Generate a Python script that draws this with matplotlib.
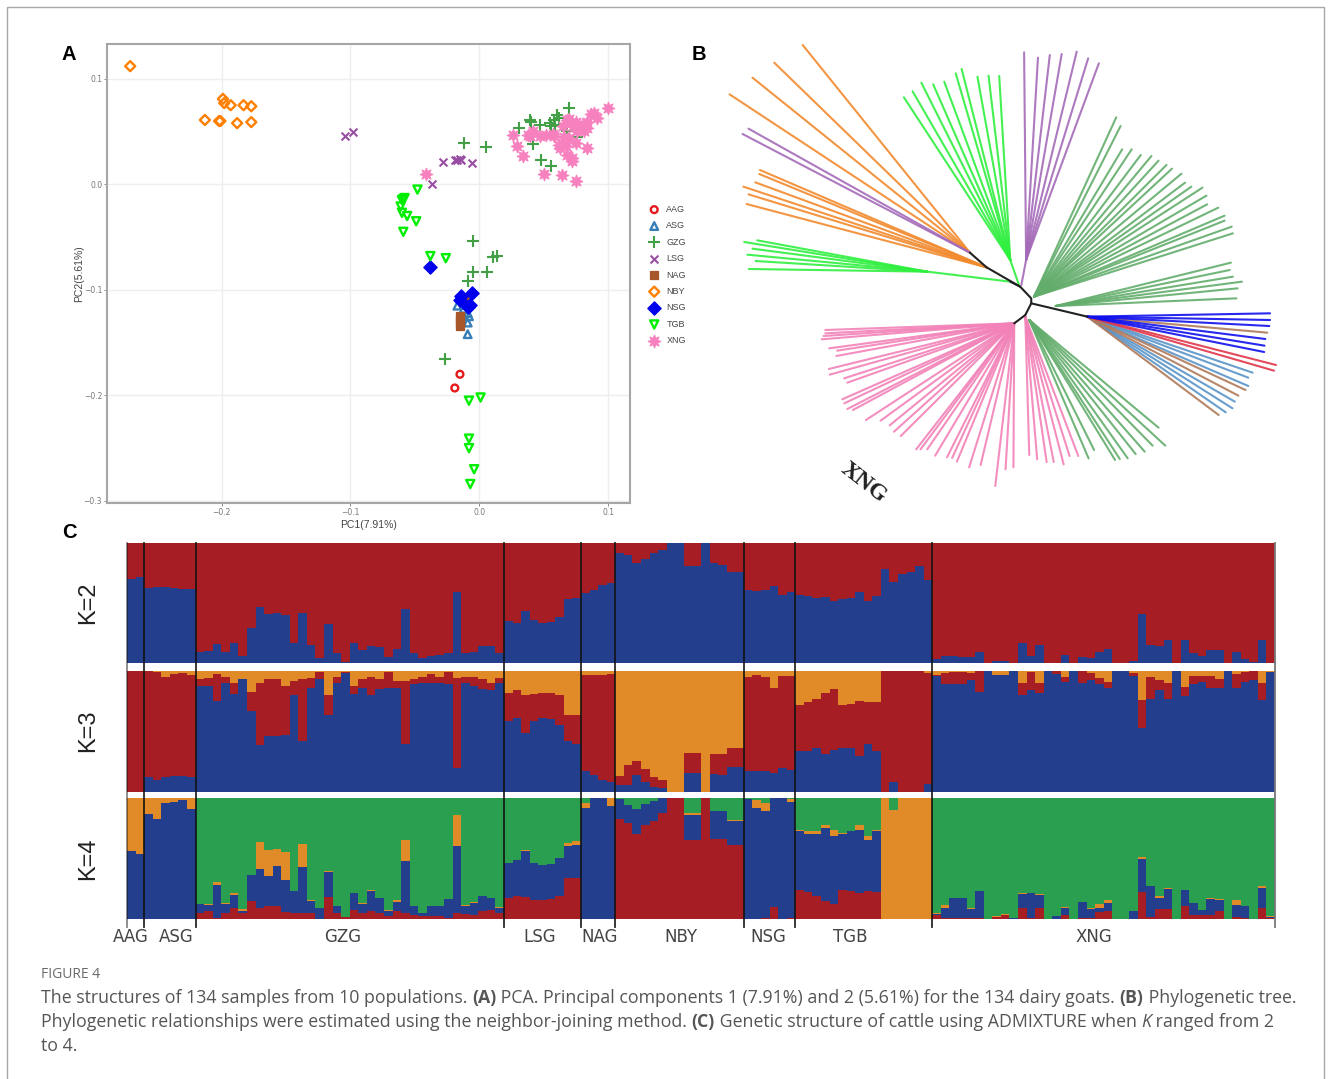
import matplotlib
matplotlib.use('Agg')
import matplotlib.pyplot as plt
from matplotlib.patches import Rectangle
from matplotlib.transforms import IdentityTransform

W, H = 1331, 1079

# panel A: PCA scores
aag_x = [-0.015, -0.019]
aag_y = [-0.180, -0.193]
asg_x = [-0.017, -0.009, -0.009, -0.009, -0.012, -0.008]
asg_y = [-0.115, -0.122, -0.131, -0.142, -0.118, -0.125]
gzg_x = [-0.012, 0.005, 0.031, 0.039, 0.040, 0.047, 0.042, 0.048, 0.056, 0.070, 0.060, 0.058, 0.056,
         0.055, 0.062, 0.068, 0.076, 0.067, 0.059, -0.005, 0.014, 0.011, -0.005, 0.006, -0.009, -0.027]
gzg_y = [0.039, 0.035, 0.053, 0.061, 0.059, 0.056, 0.038, 0.023, 0.017, 0.072, 0.066, 0.061, 0.055,
         0.058, 0.063, 0.051, 0.045, 0.055, 0.056, -0.054, -0.068, -0.069, -0.083, -0.083, -0.092, -0.166]
lsg_x = [-0.104, -0.098, -0.028, -0.019, -0.017, -0.014, -0.006, -0.037, -0.015]
lsg_y = [0.046, 0.050, 0.021, 0.023, 0.023, 0.023, 0.020, 0.000, 0.024]
nag_x = [-0.015, -0.015, -0.015, -0.015, -0.011]
nag_y = [-0.125, -0.128, -0.131, -0.134, -0.111]
nby_x = [-0.271, -0.199, -0.198, -0.193, -0.183, -0.177, -0.213, -0.202, -0.201, -0.188, -0.177]
nby_y = [0.112, 0.081, 0.077, 0.075, 0.075, 0.074, 0.061, 0.060, 0.060, 0.058, 0.059]
nsg_x = [-0.038, -0.006, -0.014, -0.015, -0.007, -0.009]
nsg_y = [-0.078, -0.103, -0.106, -0.110, -0.114, -0.116]
tgb_x = [-0.048, -0.059, -0.060, -0.058, -0.061, -0.060, -0.056, -0.049, -0.059, -0.038, -0.026,
         0.001, -0.008, -0.008, -0.008, -0.004, -0.007]
tgb_y = [-0.005, -0.014, -0.015, -0.013, -0.021, -0.027, -0.030, -0.035, -0.045, -0.068, -0.070,
         -0.202, -0.205, -0.241, -0.250, -0.270, -0.284]
xng_x = [-0.041, 0.026, 0.029, 0.034, 0.050, 0.064, 0.075, 0.100, 0.089, 0.091, 0.084, 0.038, 0.042,
         0.047, 0.052, 0.058, 0.062, 0.067, 0.070, 0.075, 0.068, 0.072, 0.072, 0.065, 0.070, 0.075,
         0.080, 0.084, 0.084, 0.076, 0.081, 0.063, 0.039, 0.087, 0.068, 0.073, 0.066, 0.057]
xng_y = [0.010, 0.047, 0.036, 0.027, 0.010, 0.009, 0.003, 0.072, 0.068, 0.063, 0.034, 0.047, 0.051,
         0.046, 0.047, 0.046, 0.037, 0.036, 0.044, 0.039, 0.028, 0.025, 0.022, 0.055, 0.062, 0.059,
         0.056, 0.053, 0.059, 0.051, 0.051, 0.034, 0.046, 0.067, 0.061, 0.055, 0.045, 0.048]

# panel B: tree, read in a 1568 x 1440 grid over the panel
backbone = [[(708, 668), (750, 712), (835, 770), (863, 805), (863, 820), (848, 855)],
            [(863, 820), (1005, 860)], [(848, 855), (820, 880)], [(835, 770), (810, 755)]]
orange_tips_a = [(285, 45), (213, 98), (158, 143), (100, 193)]
purple_tips_a = [(148, 296), (133, 312)]
orange_tips_b = [(177, 420), (175, 432), (165, 457), (135, 470), (148, 493), (143, 522)]
lime_tips_a = [(137, 636), (170, 631), (158, 656), (145, 674), (166, 693), (149, 717)]
lime_tips_b = [(541, 202), (563, 184), (585, 158), (615, 163), (643, 155), (672, 130), (687, 117),
               (727, 140), (755, 137), (782, 138)]
purple_tips_b = [(845, 67), (880, 83), (910, 75), (940, 72), (978, 65), (1007, 85), (1034, 100)]
green_tips_a = [(1078, 262), (1089, 288), (1093, 358), (1117, 358), (1140, 375), (1167, 378), (1185, 392),
                (1205, 405), (1219, 416), (1243, 431), (1252, 458), (1268, 470), (1296, 473), (1306, 497),
                (1308, 523), (1336, 533), (1352, 557), (1352, 572), (1370, 590), (1373, 610)]
green_tips_b = [(1368, 698), (1365, 720), (1373, 740), (1396, 755), (1385, 775), (1382, 805)]
blue_tips = [(1467, 850), (1467, 870), (1465, 888), (1455, 927), (1453, 947), (1452, 966)]
brown_tips = [(1460, 908), (1405, 1080), (1387, 1097), (1337, 1155)]
red_tips = [(1482, 1005), (1477, 1022)]
steel_tips = [(1423, 1028), (1412, 1043), (1412, 1068), (1378, 1115), (1372, 1135), (1355, 1147)]
pink_tips_a = [(342, 900), (342, 910), (338, 918), (333, 928), (352, 955), (372, 962), (370, 978), (351, 1017),
               (353, 1034), (390, 1045), (398, 1058), (385, 1108), (390, 1120), (398, 1137), (412, 1140),
               (445, 1170), (482, 1172), (505, 1186), (516, 1205), (533, 1218), (572, 1258), (583, 1258),
               (600, 1258), (620, 1277), (650, 1282), (663, 1284), (675, 1295), (706, 1312), (735, 1305),
               (772, 1368), (798, 1318), (818, 1312)]
pink_tips_b = [(858, 1275), (878, 1288), (902, 1296), (920, 1296), (945, 1303), (960, 1278), (982, 1278)]
green_tips_c = [(1008, 1285), (1022, 1260), (1075, 1290), (1087, 1287), (1107, 1285), (1127, 1272),
                (1150, 1265), (1170, 1247), (1202, 1247), (1185, 1193)]

# panel C: admixture proportions (%), one row per population
pops = ['AAG', 'ASG', 'GZG', 'LSG', 'NAG', 'NBY', 'NSG', 'TGB', 'XNG']
counts = [2, 6, 36, 9, 4, 15, 6, 16, 40]
# labels are not centred on their groups in the figure, position in sample units
pop_label_pos = [0.4, 5.8, 25.2, 48.2, 55.2, 64.6, 74.9, 84.4, 112.8]

k2_blue = [
    70, 72,
    62.5, 63.5, 63, 62.5, 62, 62,
    9, 10, 16, 9, 17, 6, 29, 47, 41, 42, 40, 17, 42, 15, 4, 32.5, 8, 1, 17, 11, 14, 13, 5, 12, 45, 8, 4, 6, 7, 8, 59, 8, 9, 14, 14, 8,
    35, 33, 43.5, 36, 33.5, 34, 38, 53, 54,
    58, 61, 65, 67,
    92, 90, 83, 87, 92, 94, 100, 100, 81, 81, 100, 83, 82, 76, 76,
    61, 60, 61, 64, 57, 59,
    57, 56, 54, 55, 51.5, 53.7, 54.5, 59, 51.5, 56, 78.5, 67.5, 74, 76, 81, 69,
    3, 6, 5.5, 5, 5, 9, 0, 2, 2, 0, 16.5, 5.5, 15.4, 0, 0, 6.6, 0, 5, 4.4, 9, 12, 0, 0, 2, 41, 15, 14, 19, 0, 19, 8, 6, 10.5, 11, 0, 9, 3, 1, 19, 0]

k3_blue = [
    0, 0,
    12, 10, 12, 13, 13, 12,
    88, 88, 75, 90, 81, 93, 67, 39, 46, 46, 47, 80, 42, 86, 93, 64, 90, 98, 81, 86, 80, 85, 86, 86, 40, 89, 90, 90, 90, 89, 20, 90, 88, 85, 84, 90,
    59, 61, 49, 59, 61, 60, 55, 42, 40,
    17, 14, 10, 8,
    5.5, 6, 14, 8, 4, 3, 0, 0, 16, 16, 0, 15, 14, 21, 21,
    17, 17, 17, 16, 20, 18,
    34, 34, 36, 31, 35, 36, 36, 30, 40, 34, 0, 8, 0, 0, 0, 7,
    96, 89, 89, 89, 92.5, 83, 100, 97, 97, 100, 80, 84, 81.5, 100, 97.5, 91, 100, 90, 92.5, 89, 86, 100, 100, 96, 52.5, 77, 84, 77, 100, 79, 89, 91, 86, 86, 100, 86, 91, 92.5, 76, 99]
k3_orange = [
    0, 0,
    0, 0.5, 4.7, 2.8, 2, 3.3,
    7, 6, 2.5, 5, 10, 7, 17, 10, 7, 7, 12, 8, 7, 6, 0.5, 20, 5, 1, 12, 7, 5, 7, 1, 8, 8, 7, 5, 2.5, 5, 1, 5.5, 5, 5, 7, 10, 6,
    18.5, 16, 20, 19, 18, 18, 20, 36, 36.5,
    3, 3, 3, 2.5,
    87, 78, 74, 81, 88, 90, 100, 100, 68, 68, 100, 69, 69, 63.5, 63.5,
    5, 3, 5, 14, 4, 4,
    28, 26, 23, 18.5, 15, 28, 27, 25, 26, 26, 0, 0, 0, 0, 0, 2,
    3, 1.5, 0.5, 0.5, 1.5, 0, 0, 3, 3, 0, 10, 0.5, 10, 0, 0, 5, 0, 0, 1.5, 6, 9, 0, 0, 1.5, 24, 5, 7.5, 10, 0, 13, 4, 4, 4, 6.5, 0, 2.5, 0.5, 0, 10, 0.5]

k4_red = [
    0, 0,
    0, 0, 0, 0, 0, 0,
    5, 6.3, 1, 5, 9, 5, 14.6, 9, 10.5, 10.5, 6, 5, 5, 5, 0, 18.5, 5, 1.6, 7.7, 5, 6.3, 5, 2.2, 6.3, 5, 3.6, 2.2, 2.2, 2.2, 1, 5, 4.4, 3.6, 7, 7.7, 5,
    17, 19, 18, 16, 15.4, 16.5, 18.7, 34, 34,
    0, 0, 0, 0,
    83, 79, 70.5, 78, 81, 87.6, 100, 100, 65.5, 65.5, 100, 66, 66, 61.4, 61.4,
    0, 0, 1, 10, 0, 1,
    24, 22, 18.7, 14.6, 12.4, 24, 23.4, 21.5, 23, 22, 0, 0, 0, 0, 0, 0,
    3, 1, 1, 1, 1, 1, 0, 2, 3, 0, 9, 1, 9, 0, 0, 3.6, 0, 1, 1, 5.5, 7, 0, 0, 0, 22, 2, 8, 8, 0, 11, 3.6, 3.6, 3.6, 6.3, 0, 2, 1, 0, 9, 1]
k4_blue = [
    56, 54,
    87, 83, 96, 97, 98, 91,
    7.4, 5.5, 27.5, 7.7, 11, 2, 22, 32, 25, 33, 26, 18, 38, 9.6, 9, 20.7, 5.5, 0, 13.8, 7.7, 16.5, 12.4, 4, 7.4, 42.7, 6.9, 2.8, 8.3, 8.3, 15.7, 55, 6.6, 9.6, 11.6, 9.6, 4,
    29, 30, 38, 30, 29.5, 29, 32, 26, 27.5,
    92, 100, 100, 93,
    16, 15, 20, 17, 16.5, 12.4, 0, 0, 20.7, 20.7, 0, 23.4, 23.4, 19.3, 19.3,
    99, 92, 88, 90, 100, 96,
    48.8, 48.5, 51.8, 60.6, 56.5, 46.3, 49, 52.3, 42.7, 50.4, 0, 0, 0, 0, 0, 0,
    1.4, 8, 16, 16, 7, 22, 0, 0, 0, 0.5, 11.6, 20.7, 11, 0, 2.2, 5.5, 0, 13, 7, 3.6, 6.6, 0, 0, 6.3, 28, 25, 9.6, 16.5, 0, 13, 10, 4, 13, 9, 0, 9.6, 9.6, 0, 16.5, 0.5]
k4_orange = [
    44, 46,
    13, 17, 4, 3, 2, 9,
    0.3, 0.8, 2, 0.5, 1.4, 1.4, 0, 23, 21.5, 14, 23.5, 0, 19, 0.8, 0, 0.8, 0.5, 0, 0, 0.5, 1.4, 0, 1.4, 1.6, 18, 0, 0, 0, 0, 0, 26, 0.8, 0.5, 0.5, 0, 0.8,
    0, 0, 1.4, 0, 0, 0, 0, 2.8, 2.8,
    4, 0, 0, 7,
    0, 0, 0, 0, 0, 0, 0, 0, 1, 1, 0, 0, 0, 1, 1,
    0, 6, 7, 0, 0, 2.5,
    1, 2, 2.5, 2.8, 5, 0.5, 0, 4, 2.8, 1.4, 100, 90, 100, 100, 100, 100,
    0.5, 2.8, 0, 0, 1.4, 0, 0, 0.5, 0.8, 0, 0.8, 0, 0.8, 0, 0.5, 0.5, 0, 0, 1.4, 3.6, 2.2, 0, 0, 0, 1.4, 0, 1.4, 1.4, 0, 0, 0, 0, 0.5, 1, 0, 4, 0, 0, 1.4, 0.8]

C_RED, C_BLUE, C_ORANGE, C_GREEN = '#A61E24', '#243E8E', '#E08B27', '#2A9F50'


def px_axes(fig, x0, y0, x1, y1):
    return fig.add_axes([x0 / W, 1 - y1 / H, (x1 - x0) / W, (y1 - y0) / H])


def stacked(ax, stacks):
    x = range(sum(counts))
    bottom = [0] * sum(counts)
    for vals, col in stacks:
        ax.bar(x, vals, width=1.0, bottom=bottom, color=col, linewidth=0, align='edge')
        bottom = [b + v for b, v in zip(bottom, vals)]
    ax.set_xlim(0, sum(counts))
    ax.set_ylim(0, 100)
    ax.axis('off')


def rest(*rows):
    return [max(0, 100 - sum(r)) for r in zip(*rows)]


def fan(ax, node, tips, col, lw=1.5):
    for tip in tips:
        ax.plot([node[0], tip[0]], [node[1], tip[1]], color=col, lw=lw, solid_capstyle='round', alpha=0.9)


fig = plt.figure(figsize=(W / 100, H / 100), dpi=100, facecolor='white')

# outer card
fig.add_artist(Rectangle((7 / W, -0.01), 1317 / W, 1 + 0.01 - 7 / H, transform=fig.transFigure,
                         fill=False, edgecolor='#a8a8a8', lw=1.0))

# ---- A
ax = px_axes(fig, 107, 44, 630, 503)
series = [('AAG', aag_x, aag_y, 'o', '#E41A1C', True, 24),
          ('ASG', asg_x, asg_y, '^', '#377EB8', True, 30),
          ('GZG', gzg_x, gzg_y, '+', '#43A047', False, 70),
          ('LSG', lsg_x, lsg_y, 'x', '#984EA3', False, 32),
          ('NAG', nag_x, nag_y, 's', '#A65628', False, 36),
          ('NBY', nby_x, nby_y, 'D', '#FF7F00', True, 26),
          ('NSG', nsg_x, nsg_y, 'D', '#0000EE', False, 46),
          ('TGB', tgb_x, tgb_y, 'v', '#00EE00', True, 34),
          ('XNG', xng_x, xng_y, (8, 1, 0), '#F781BF', False, 80)]
for name, xs, ys, mk, col, hollow, size in series:
    if hollow:
        ax.scatter(xs, ys, marker=mk, s=size, facecolors='none', edgecolors=col, linewidths=1.7, label=name, zorder=3)
    elif mk in ('+', 'x'):
        ax.scatter(xs, ys, marker=mk, s=size, color=col, linewidths=1.5, label=name, zorder=3)
    else:
        ax.scatter(xs, ys, marker=mk, s=size, color=col, linewidths=0.9, label=name, zorder=3)
ax.set_xlim(-0.289, 0.117)
ax.set_ylim(-0.302, 0.133)
ax.set_xticks([-0.2, -0.1, 0.0, 0.1], ['\u22120.2', '\u22120.1', '0.0', '0.1'])
ax.set_yticks([-0.3, -0.2, -0.1, 0.0, 0.1], ['\u22120.3', '\u22120.2', '\u22120.1', '0.0', '0.1'])
ax.tick_params(labelsize=5.5, labelcolor='#777777', color='#777777', length=2, width=0.6, pad=1.5)
ax.grid(True, color='#eeeeee', lw=1.0)
ax.set_axisbelow(True)
for s in ax.spines.values():
    s.set_color('#a6a6a6')
    s.set_linewidth(1.5)
ax.set_xlabel('PC1(7.91%)', fontsize=7.5, color='#444444', labelpad=2, family='Liberation Sans')
ax.set_ylabel('PC2(5.61%)', fontsize=7.5, color='#444444', labelpad=0, family='Liberation Sans')
leg = ax.legend(loc='upper left', bbox_to_anchor=(647 / W, 1 - 205 / H), bbox_transform=fig.transFigure,
                frameon=False, fontsize=6.5, labelspacing=0.82, handletextpad=0.55, borderpad=0, borderaxespad=0,
                labelcolor='#444444', handlelength=1.6, prop={'family': 'Liberation Sans', 'size': 6.5})

# ---- B
tree = px_axes(fig, 690, 30, 1310, 510)
tree.set_xlim(0, 1568)
tree.set_ylim(1440, 0)
tree.axis('off')
C_TREE_ORANGE, C_TREE_PURPLE = '#F28A2E', '#A46AB8'
C_TREE_LIME, C_TREE_GREEN = '#2FEF3F', '#63AD6C'
C_TREE_PINK = '#F282B8'
fan(tree, (708, 668), orange_tips_a, C_TREE_ORANGE)
fan(tree, (708, 668), purple_tips_a, C_TREE_PURPLE)
fan(tree, (750, 712), orange_tips_b, C_TREE_ORANGE)
fan(tree, (810, 755), [(600, 725)], C_TREE_LIME)
fan(tree, (600, 725), lime_tips_a, C_TREE_LIME)
fan(tree, (832, 765), [(810, 690)], C_TREE_LIME)
fan(tree, (810, 690), lime_tips_b, C_TREE_LIME)
fan(tree, (838, 765), [(850, 690)], C_TREE_PURPLE)
fan(tree, (850, 690), purple_tips_b, C_TREE_PURPLE)
fan(tree, (870, 800), green_tips_a, C_TREE_GREEN)
fan(tree, (925, 828), green_tips_b, C_TREE_GREEN)
fan(tree, (1005, 860), steel_tips, '#5A94C8')
fan(tree, (1005, 860), brown_tips, '#B07A5A')
fan(tree, (1005, 860), red_tips, '#E0364A')
fan(tree, (1005, 860), blue_tips, '#1010EE')
fan(tree, (820, 880), pink_tips_a, C_TREE_PINK)
fan(tree, (848, 860), pink_tips_b, C_TREE_PINK)
fan(tree, (858, 870), green_tips_c, C_TREE_GREEN)
for branch in backbone:
    tree.plot([p[0] for p in branch], [p[1] for p in branch], color='#222222', lw=1.5, solid_capstyle='round')
fig.text(864 / W, 1 - 483 / H, 'XNG', rotation=-38, ha='center', va='center', fontsize=17,
         family='Liberation Serif', fontweight='bold', color='#222222')

# ---- C
stacked(px_axes(fig, 127, 543, 1275, 663), [(k2_blue, C_BLUE), (rest(k2_blue), C_RED)])
stacked(px_axes(fig, 127, 671, 1275, 792),
        [(k3_blue, C_BLUE), (rest(k3_blue, k3_orange), C_RED), (k3_orange, C_ORANGE)])
stacked(px_axes(fig, 127, 798, 1275, 919),
        [(k4_red, C_RED), (k4_blue, C_BLUE), (k4_orange, C_ORANGE), (rest(k4_red, k4_blue, k4_orange), C_GREEN)])

over = px_axes(fig, 127, 543, 1275, 927)
over.patch.set_alpha(0)
over.set_xlim(0, sum(counts))
over.set_ylim(1, 0)
over.axis('off')
edge = 0
for name, n, pos in zip(pops, counts, pop_label_pos):
    over.plot([edge, edge], [0, 1], color='#111111', lw=1.3, clip_on=False, alpha=0.9 if edge else 0.5)
    over.text(pos, 1.027, name, ha='center', va='center', fontsize=12, family='DejaVu Sans',
              color='#444444', clip_on=False)
    edge += n
over.plot([edge, edge], [0, 1], color='#777777', lw=1.3, clip_on=False)

for label, y in zip(['K=2', 'K=3', 'K=4'], [603, 731, 859]):
    fig.text(88 / W, 1 - y / H, label, rotation=90, ha='center', va='center', fontsize=17,
             family='Liberation Sans', color='#222222')

for label, x, y in [('A', 69, 54), ('B', 699, 54), ('C', 69, 532)]:
    fig.text(x / W, 1 - y / H, label, ha='center', va='center', fontsize=14.5, fontweight='bold',
             family='Liberation Sans', color='black')

# ---- caption
fig.text(41 / W, 1 - 974 / H, 'FIGURE 4', fontsize=10, family='Open Sans', color='#6a6a6a', va='center')
caption = [
    [('The structures of 134 samples from 10 populations. ', {}), ('(A)', {'fontweight': 'bold'}),
     (' PCA. Principal components 1 (7.91%) and 2 (5.61%) for the 134 dairy goats. ', {}),
     ('(B)', {'fontweight': 'bold'}), (' Phylogenetic tree.', {})],
    [('Phylogenetic relationships were estimated using the neighbor-joining method. ', {}),
     ('(C)', {'fontweight': 'bold'}), (' Genetic structure of cattle using ADMIXTURE when ', {}),
     ('K', {'fontstyle': 'italic'}), (' ranged from 2', {})],
    [('to 4.', {})],
]
renderer = fig.canvas.get_renderer()
for row, y in zip(caption, [998, 1022, 1046]):
    x = 41
    for chunk, style in row:
        t = fig.text(x, H - y, chunk, transform=IdentityTransform(), fontsize=12.8, family='Open Sans',
                     color='#555555', va='center', **style)
        # spaces at the ends get dropped when measuring, so measure with no-break spaces
        probe = fig.text(0, 0, chunk.replace(' ', '\u00a0'), transform=IdentityTransform(), fontsize=12.8,
                         family='Open Sans', **style)
        x += probe.get_window_extent(renderer).width
        probe.remove()

fig.savefig('out.png', dpi=100, facecolor='white')
